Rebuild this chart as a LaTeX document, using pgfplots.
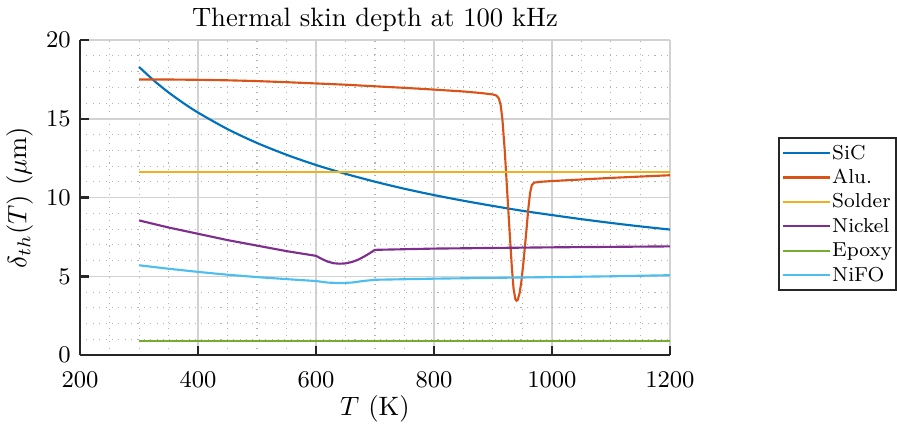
\documentclass[border=0pt]{standalone}
\usepackage{pgfplots}
\pgfplotsset{compat=1.18}
\definecolor{c1}{rgb}{0,0.447,0.741}
\definecolor{c2}{rgb}{0.85,0.325,0.098}
\definecolor{c3}{rgb}{0.929,0.694,0.125}
\definecolor{c4}{rgb}{0.494,0.184,0.556}
\definecolor{c5}{rgb}{0.466,0.674,0.188}
\definecolor{c6}{rgb}{0.301,0.745,0.933}
\begin{document}
\begin{tikzpicture}
\begin{axis}[
  name=ax,
  scale only axis,
  width=221.8pt, height=118.4pt,
  xmin=200, xmax=1200, ymin=0, ymax=20,
  xtick={200,400,...,1200}, ytick={0,5,...,20},
  minor x tick num=3, minor y tick num=4,
  grid=both,
  major grid style={gray!35, line width=0.5pt},
  minor grid style={gray!60, dotted, line width=0.4pt},
  axis x line*=bottom, axis y line*=left,
  axis line style={line width=1pt, black!85, -},
  tick style={line width=1pt, black!85},
  major tick length=3.5pt,
  minor tick length=0pt,
  tick align=inside,
  tick label style={font=\small},
  xticklabel style={yshift=-3pt},
  /pgf/number format/1000 sep={},
  title={Thermal skin depth at 100 kHz},
  title style={yshift=-6.5pt},
  xlabel={$T$ (K)},
  ylabel={$\delta_{th}(T)$ ($\mu$m)},
  xlabel style={yshift=4pt},
  ylabel style={yshift=-2pt},
  every axis plot/.append style={line width=0.8pt},
  legend style={at={(rel axis cs:1.183,0.692)}, anchor=north west, draw=black!85, line width=0.8pt,
    font=\fontsize{7.6}{8}\selectfont, row sep=0pt, inner sep=1pt,
    nodes={text height=1.45ex, text depth=0.4ex, inner sep=0.6pt}},
  legend cell align=left,
  legend image code/.code={\draw[#1, line width=0.8pt] (0cm,0cm) -- (0.62cm,0cm);},
]
\addplot[c1, smooth] coordinates {(300,18.3)(325,17.44)(350,16.68)(375,16.01)(400,15.40)(450,14.35)(500,13.47)(550,12.72)(600,12.07)(650,11.51)(700,11.01)(750,10.56)(800,10.16)(850,9.80)(900,9.47)(950,9.16)(1000,8.89)(1050,8.63)(1100,8.39)(1150,8.17)(1200,7.97)};
\addlegendentry{SiC}
\addplot[c2] coordinates {(300,17.50)(350,17.50)(400,17.48)(450,17.45)(500,17.40)(550,17.33)(600,17.25)(650,17.17)(700,17.07)(750,16.97)(800,16.86)(850,16.74)(880,16.64)(900,16.55)(906,16.48)(910,16.3)(913,15.9)(916,15.0)(920,13.0)(924,10.5)(928,8.0)(932,5.6)(935,4.2)(938,3.55)(940,3.45)(942,3.5)(945,3.9)(948,4.6)(952,6.0)(956,7.6)(960,9.3)(963,10.3)(966,10.8)(970,10.95)(980,11.0)(1000,11.05)(1100,11.25)(1200,11.42)};
\addlegendentry{Alu.}
\addplot[c3] coordinates {(300,11.65)(1200,11.65)};
\addlegendentry{Solder}
\addplot[c4] coordinates {(300,8.55)(350,8.1)(400,7.7)(450,7.3)(500,6.95)(550,6.6)(600,6.3)(610,6.1)(620,5.93)(630,5.83)(640,5.8)(650,5.82)(660,5.9)(670,6.03)(680,6.22)(690,6.44)(700,6.68)(750,6.72)(800,6.76)(900,6.8)(1000,6.84)(1100,6.87)(1200,6.9)};
\addlegendentry{Nickel}
\addplot[c5] coordinates {(300,0.9)(1200,0.9)};
\addlegendentry{Epoxy}
\addplot[c6] coordinates {(300,5.7)(350,5.48)(400,5.28)(450,5.1)(500,4.95)(550,4.82)(600,4.7)(620,4.6)(640,4.57)(660,4.6)(680,4.7)(700,4.78)(800,4.85)(900,4.9)(1000,4.95)(1100,5.0)(1200,5.07)};
\addlegendentry{NiFO}
\end{axis}
\pgfresetboundingbox
\path ([shift={(-30.1pt,-26.3pt)}]ax.south west) rectangle ([shift={(307.2pt,133.5pt)}]ax.south west);
\end{tikzpicture}
\end{document}
